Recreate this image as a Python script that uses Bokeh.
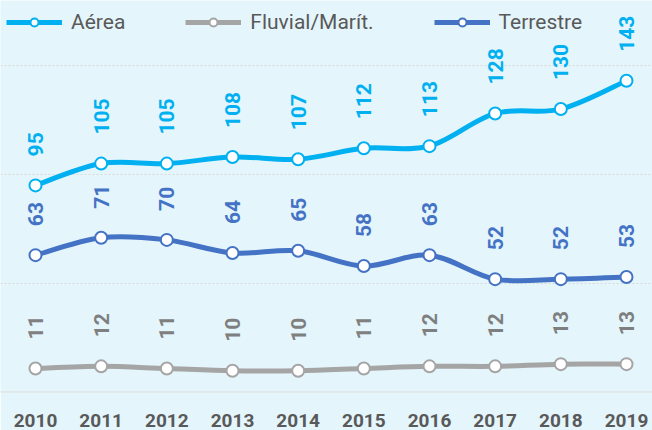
import math
from bokeh.plotting import figure
from bokeh.models import ColumnDataSource, FixedTicker, Span, Legend, LegendItem, Range1d
from bokeh.core.properties import value
from bokeh.embed import file_html
from bokeh.resources import INLINE

years = [2010, 2011, 2012, 2013, 2014, 2015, 2016, 2017, 2018, 2019]
year_labels = ["2010", "2011", "2012", "2013", "2014", "2015", "2016", "2017", "2018", "2019"]
aerea = [95, 105, 105, 108, 107, 112, 113, 128, 130, 143]
fluvial = [11, 12, 11, 10, 10, 11, 12, 12, 13, 13]
terrestre = [63, 71, 70, 64, 65, 58, 63, 52, 52, 53]

series = [
    ("Aérea", aerea, "#00B0F0", "#00B0F0"),
    ("Fluvial/Marít.", fluvial, "#A5A5A5", "#7F7F7F"),
    ("Terrestre", terrestre, "#4472C4", "#4472C4"),
]

BG = "#E4F5FC"
FONT = "Roboto"

p = figure(width=652, height=430, output_backend="svg", toolbar_location=None,
           x_range=Range1d(2009.467, 2019.396), y_range=Range1d(0, 179.8),
           min_border_left=0, min_border_right=0, min_border_top=0, min_border_bottom=38)
p.background_fill_color = BG
p.border_fill_color = BG
p.outline_line_color = None
p.yaxis.visible = False
p.xgrid.visible = False
p.ygrid.ticker = FixedTicker(ticks=[50, 100, 150])
p.ygrid.grid_line_color = "#D9D9D9"
p.ygrid.grid_line_dash = "2 2"
p.ygrid.grid_line_width = 1

xa = p.xaxis[0]
xa.ticker = FixedTicker(ticks=years)
xa.major_label_overrides = {y: l for y, l in zip(years, year_labels)}
xa.axis_line_color = None
xa.major_tick_line_color = None
xa.minor_tick_line_color = None
xa.major_label_standoff = 15
xa.major_label_text_font = FONT
xa.major_label_text_font_style = "bold"
xa.major_label_text_font_size = "19px"
xa.major_label_text_color = "#595959"

p.add_layout(Span(location=0, dimension="width", line_color="#D9D9D9", line_width=2))


def bezier_parts(xs, ys, t=1.0 / 6.0):
    n = len(xs)
    out = dict(x0=[], y0=[], x1=[], y1=[], cx0=[], cy0=[], cx1=[], cy1=[])
    for i in range(n - 1):
        a = i - 1 if i > 0 else i
        d = i + 2 if i + 2 < n else i + 1
        out["x0"].append(xs[i]); out["y0"].append(ys[i])
        out["x1"].append(xs[i + 1]); out["y1"].append(ys[i + 1])
        out["cx0"].append(xs[i] + (xs[i + 1] - xs[a]) * t)
        out["cy0"].append(ys[i] + (ys[i + 1] - ys[a]) * t)
        out["cx1"].append(xs[i + 1] - (xs[d] - xs[i]) * t)
        out["cy1"].append(ys[i + 1] - (ys[d] - ys[i]) * t)
    return out


items = []
for name, vals, color, lab_color in [series[1], series[2], series[0]]:
    bsrc = ColumnDataSource(bezier_parts(years, vals))
    br = p.bezier(x0="x0", y0="y0", x1="x1", y1="y1", cx0="cx0", cy0="cy0", cx1="cx1", cy1="cy1",
                  source=bsrc, line_color=color, line_width=5)
    src = ColumnDataSource(dict(x=years, y=vals, t=[str(v) for v in vals]))
    sr = p.scatter("x", "y", source=src, size=12, marker="circle", fill_color="white",
                   line_color=color, line_width=2)
    p.text("x", "y", text="t", source=src, angle=math.pi / 2, text_align="left",
           text_baseline="middle", y_offset=-29, text_font=value(FONT),
           text_font_style="bold", text_font_size="21px", text_color=lab_color)
    items.append((name, LegendItem(label=name, renderers=[br, sr])))

order = {"Aérea": 0, "Fluvial/Marít.": 1, "Terrestre": 2}
items.sort(key=lambda it: order[it[0]])
legend = Legend(items=[it[1] for it in items], orientation="horizontal", location=(6, 358),
                background_fill_alpha=0, border_line_color=None, margin=0, padding=0,
                glyph_width=56, glyph_height=20, label_height=20, label_standoff=9, spacing=60,
                label_text_font=FONT, label_text_font_size="21px", label_text_color="#595959")
p.add_layout(legend, "center")

open("out.html", "w").write(file_html(p, INLINE))
